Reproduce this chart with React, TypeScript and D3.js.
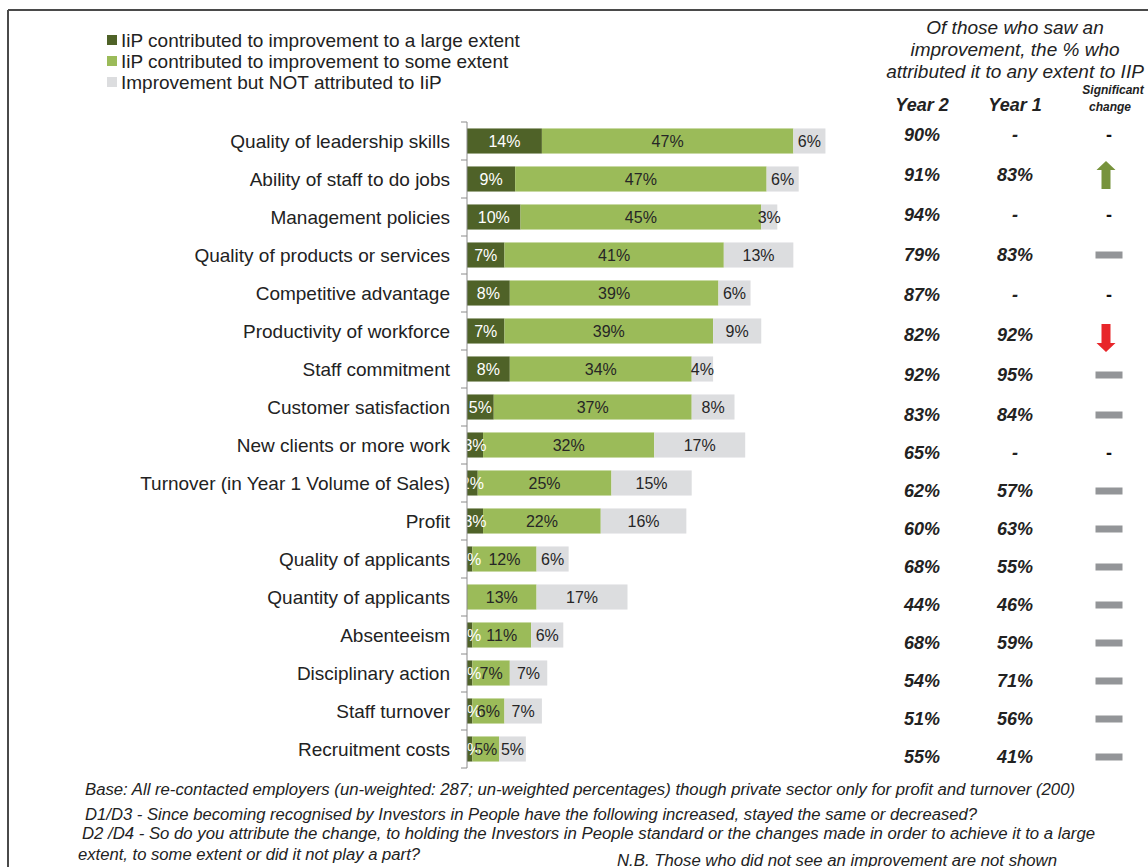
import React from "react";
import * as d3 from "d3";

const categories = [
  "Quality of leadership skills",
  "Ability of staff to do jobs",
  "Management policies",
  "Quality of products or services",
  "Competitive advantage",
  "Productivity of workforce",
  "Staff commitment",
  "Customer satisfaction",
  "New clients or more work",
  "Turnover (in Year 1 Volume of Sales)",
  "Profit",
  "Quality of applicants",
  "Quantity of applicants",
  "Absenteeism",
  "Disciplinary action",
  "Staff turnover",
  "Recruitment costs",
];
const largeExtent = [14, 9, 10, 7, 8, 7, 8, 5, 3, 2, 3, 1, 0, 1, 1, 1, 1];
const someExtent = [47, 47, 45, 41, 39, 39, 34, 37, 32, 25, 22, 12, 13, 11, 7, 6, 5];
const notAttributed = [6, 6, 3, 13, 6, 9, 4, 8, 17, 15, 16, 6, 17, 6, 7, 7, 5];
const year2 = [90, 91, 94, 79, 87, 82, 92, 83, 65, 62, 60, 68, 44, 68, 54, 51, 55];
const year1: (number | null)[] = [null, 83, null, 83, null, 92, 95, 84, null, 57, 63, 55, 46, 59, 71, 56, 41];
const sigChange = ["none", "up", "none", "same", "none", "down", "same", "same", "none", "same", "same", "same", "same", "same", "same", "same", "same"];

const seriesNames = [
  "IiP contributed to improvement to a large extent",
  "IiP contributed to improvement to some extent",
  "Improvement but NOT attributed to IiP",
];
const seriesColors = ["#4F6228", "#9BBB59", "#DCDDDF"];
const labelColors = ["#ffffff", "#262626", "#262626"];

const headerLines = ["Of those who saw an", "improvement, the % who", "attributed it to any extent to IIP"];
const footerLines = [
  "Base: All re-contacted employers (un-weighted: 287; un-weighted percentages) though private sector only for profit and turnover (200)",
  "D1/D3 - Since becoming recognised by Investors in People have the following increased, stayed the same or decreased?",
  "D2 /D4 - So do you attribute the change, to holding the Investors in People standard or the changes made in order to achieve it to a large",
  "extent, to some extent or did it not play a part?",
];
const footnote = "N.B. Those who did not see an improvement are not shown";

const FONT = "'Liberation Sans', Arial, sans-serif";
const NARROW = "'Liberation Sans Narrow', 'Liberation Sans', Arial, sans-serif";

export default function App() {
  const W = 1148, H = 867;
  const x = d3.scaleLinear().domain([0, 100]).range([467, 467 + 535]);
  const y = d3.scaleBand<string>().domain(categories).range([122, 768]).paddingInner(0.34).paddingOuter(0.17);
  const rowY = d3.scaleLinear().domain([0, 7, 16]).range([135, 415, 757]);
  const colX = { y2: 922, y1: 1015, sig: 1109 };

  const stackData = categories.map((c, i) => ({ c, s0: largeExtent[i], s1: someExtent[i], s2: notAttributed[i] }));
  const stack = d3.stack<any>().keys(["s0", "s1", "s2"])(stackData);

  const arrow = (cx: number, cy: number, dir: number) => {
    const p = d3.path();
    const hw = 9.5, sw = 4.5, hh = 14, head = 9;
    p.moveTo(cx, cy - dir * hh);
    p.lineTo(cx + hw, cy - dir * (hh - head));
    p.lineTo(cx + sw, cy - dir * (hh - head));
    p.lineTo(cx + sw, cy + dir * hh);
    p.lineTo(cx - sw, cy + dir * hh);
    p.lineTo(cx - sw, cy - dir * (hh - head));
    p.lineTo(cx - hw, cy - dir * (hh - head));
    p.closePath();
    return p.toString();
  };

  const step = y.step();
  const axisTop = y.range()[0];
  const ticks = d3.range(categories.length + 1).map((i) => axisTop + i * step);

  return (
    <svg width={W} height={H} style={{ position: "absolute", left: 0, top: 0, background: "#fff" }} fontFamily={FONT}>
      <rect x={0} y={0} width={W} height={H} fill="#fff" />
      {/* frame */}
      <line x1={8} y1={10} x2={W} y2={10} stroke="#4a4a4a" strokeWidth={2} />
      <line x1={8} y1={10} x2={8} y2={H} stroke="#4a4a4a" strokeWidth={2} />

      {/* legend */}
      {seriesNames.map((n, i) => (
        <g key={n}>
          <rect x={107} y={35 + i * 21} width={10} height={10} fill={seriesColors[i]} />
          <text x={121} y={40 + i * 21} dy="0.35em" fontSize={19} fill="#222">{n}</text>
        </g>
      ))}

      {/* bars */}
      {stack.map((layer, li) => (
        <g key={li}>
          {layer.map((d, i) => {
            const w = x(d[1]) - x(d[0]);
            if (w <= 0) return null;
            return (
              <rect key={i} x={x(d[0])} y={y(categories[i])!} width={w} height={y.bandwidth()} fill={seriesColors[li]} />
            );
          })}
        </g>
      ))}
      {stack.map((layer, li) => (
        <g key={"l" + li}>
          {layer.map((d, i) => {
            const v = d[1] - d[0];
            if (v <= 0) return null;
            return (
              <text key={i} x={(x(d[0]) + x(d[1])) / 2} y={y(categories[i])! + y.bandwidth() / 2} dy="0.35em"
                textAnchor="middle" fontSize={16} fill={labelColors[li]}>{v}%</text>
            );
          })}
        </g>
      ))}

      {/* axis */}
      <line x1={467} y1={axisTop} x2={467} y2={ticks[ticks.length - 1]} stroke="#8c8c8c" strokeWidth={1} />
      {ticks.map((t, i) => (
        <line key={i} x1={461} x2={467} y1={t} y2={t} stroke="#8c8c8c" strokeWidth={1} />
      ))}
      {categories.map((c) => (
        <text key={c} x={450} y={y(c)! + y.bandwidth() / 2} dy="0.35em" textAnchor="end" fontSize={19} fill="#222">{c}</text>
      ))}

      {/* right header */}
      {headerLines.map((l, i) => (
        <text key={l} x={1015} y={27 + i * 22} dy="0.35em" textAnchor="middle" fontSize={19} fontStyle="italic" fill="#222">{l}</text>
      ))}
      <text x={colX.y2} y={105} dy="0.35em" textAnchor="middle" fontSize={18} fontWeight="bold" fontStyle="italic" fill="#222">Year 2</text>
      <text x={colX.y1} y={105} dy="0.35em" textAnchor="middle" fontSize={18} fontWeight="bold" fontStyle="italic" fill="#222">Year 1</text>
      <text x={1113} y={90} dy="0.35em" textAnchor="middle" fontSize={12} fontWeight="bold" fontStyle="italic" fill="#222">Significant</text>
      <text x={1110} y={107} dy="0.35em" textAnchor="middle" fontSize={12} fontWeight="bold" fontStyle="italic" fill="#222">change</text>

      {/* right columns */}
      {year2.map((v, i) => (
        <text key={"y2" + i} x={colX.y2} y={rowY(i)} dy="0.35em" textAnchor="middle" fontSize={18} fontWeight="bold" fontStyle="italic" fill="#222">{v}%</text>
      ))}
      {year1.map((v, i) => (
        <text key={"y1" + i} x={colX.y1} y={rowY(i)} dy="0.35em" textAnchor="middle" fontSize={18} fontWeight="bold" fontStyle="italic" fill="#222">{v === null ? "-" : v + "%"}</text>
      ))}
      {sigChange.map((s, i) => {
        const cy = rowY(i);
        if (s === "none") return <text key={"s" + i} x={colX.sig} y={cy} dy="0.35em" textAnchor="middle" fontSize={18} fontWeight="bold" fill="#111">-</text>;
        if (s === "same") return <rect key={"s" + i} x={colX.sig - 13.5} y={cy - 3.5} width={27} height={7} fill="#939598" />;
        if (s === "up") return <path key={"s" + i} d={arrow(colX.sig - 3, cy, 1)} fill="#77933C" />;
        return <path key={"s" + i} d={arrow(colX.sig - 3, cy + 3, -1)} fill="#E8262A" />;
      })}

      {/* footer */}
      <text x={85} y={795} fontSize={16} fontStyle="italic" fontFamily={NARROW} fill="#222" textLength={990} lengthAdjust="spacingAndGlyphs">{footerLines[0]}</text>
      <text x={85} y={820} fontSize={16} fontStyle="italic" fontFamily={NARROW} fill="#222" textLength={892} lengthAdjust="spacingAndGlyphs">{footerLines[1]}</text>
      <text x={82} y={839} fontSize={16} fontStyle="italic" fontFamily={NARROW} fill="#222" textLength={1013} lengthAdjust="spacingAndGlyphs">{footerLines[2]}</text>
      <text x={78} y={860} fontSize={16} fontStyle="italic" fontFamily={NARROW} fill="#222" textLength={342} lengthAdjust="spacingAndGlyphs">{footerLines[3]}</text>
      <text x={617} y={866} fontSize={16} fontStyle="italic" fontFamily={NARROW} fill="#222" textLength={440} lengthAdjust="spacingAndGlyphs">{footnote}</text>
    </svg>
  );
}
